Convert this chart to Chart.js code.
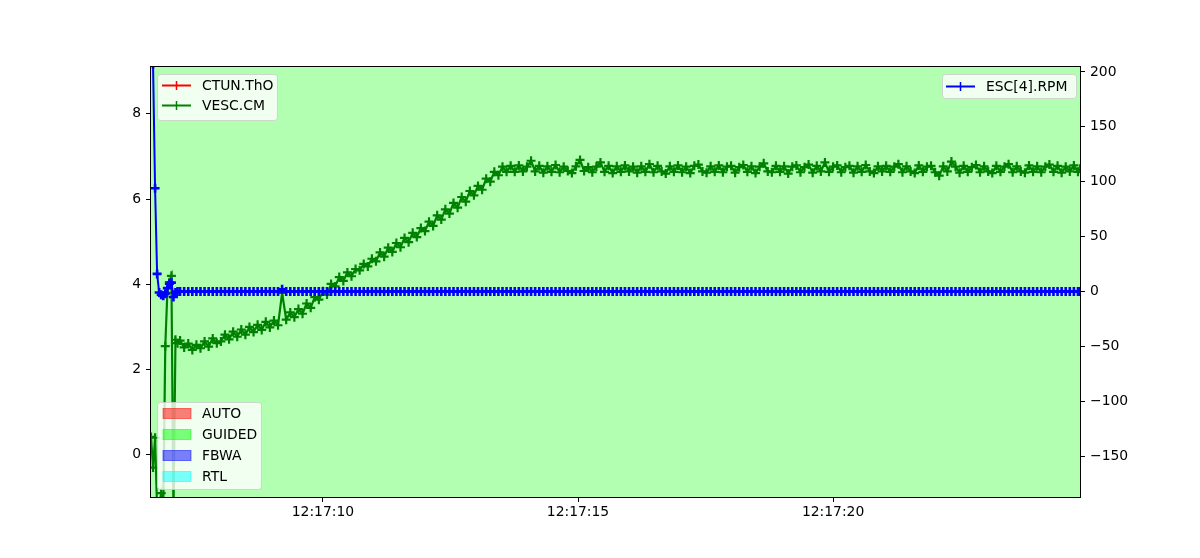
<!DOCTYPE html>
<html><head><meta charset="utf-8">
<script src="https://cdn.jsdelivr.net/npm/chart.js@4/dist/chart.umd.min.js"></script>
<style>html,body{margin:0;padding:0;background:#fff;}#wrap{width:1200px;height:558px;position:relative;}</style>
</head><body><div id="wrap"><canvas id="c" width="1200" height="558"></canvas></div>
<script>
// time in seconds after 12:17:00
const times = [
 6.63,6.67,6.71,6.75,6.79,6.83,6.87,6.91,6.95,6.99,7.03,7.07,7.11,7.15,
 7.20,7.28,7.36,7.44,7.52,7.60,7.68,7.76,7.84,7.92,
 8.00,8.08,8.16,8.24,8.32,8.40,8.48,8.56,8.64,8.72,8.80,8.88,8.96,
 9.04,9.12,9.20,9.28,9.36,9.44,9.52,9.60,9.68,9.76,9.84,9.92,
 10.00,10.08,10.16,10.24,10.32,10.40,10.48,10.56,10.64,10.72,10.80,10.88,10.96,
 11.04,11.12,11.20,11.28,11.36,11.44,11.52,11.60,11.68,11.76,11.84,11.92,
 12.00,12.08,12.16,12.24,12.32,12.40,12.48,12.56,12.64,12.72,12.80,12.88,12.96,
 13.04,13.12,13.20,13.28,13.36,13.44,13.52,13.60,13.68,13.76,13.84,13.92,
 14.00,14.08,14.16,14.24,14.32,14.40,14.48,14.56,14.64,14.72,14.80,14.88,14.96,
 15.04,15.12,15.20,15.28,15.36,15.44,15.52,15.60,15.68,15.76,15.84,15.92,
 16.00,16.08,16.16,16.24,16.32,16.40,16.48,16.56,16.64,16.72,16.80,16.88,16.96,
 17.04,17.12,17.20,17.28,17.36,17.44,17.52,17.60,17.68,17.76,17.84,17.92,
 18.00,18.08,18.16,18.24,18.32,18.40,18.48,18.56,18.64,18.72,18.80,18.88,18.96,
 19.04,19.12,19.20,19.28,19.36,19.44,19.52,19.60,19.68,19.76,19.84,19.92,
 20.00,20.08,20.16,20.24,20.32,20.40,20.48,20.56,20.64,20.72,20.80,20.88,20.96,
 21.04,21.12,21.20,21.28,21.36,21.44,21.52,21.60,21.68,21.76,21.84,21.92,
 22.00,22.08,22.16,22.24,22.32,22.40,22.48,22.56,22.64,22.72,22.80,22.88,22.96,
 23.04,23.12,23.20,23.28,23.36,23.44,23.52,23.60,23.68,23.76,23.84,23.92,
 24.00,24.08,24.16,24.24,24.32,24.40,24.48,24.56,24.64,24.72,24.80,
 24.84
];
const vescCM = [
 0.42,-0.30,0.40,-1.30,-1.20,-0.90,-1.30,2.55,3.80,4.05,4.20,-1.40,2.70,2.62,
 2.68,2.52,2.61,2.46,2.58,2.50,2.66,2.54,2.73,2.62,
 2.66,2.82,2.71,2.89,2.77,2.94,2.82,3.00,2.88,3.05,2.93,3.12,2.99,
 3.15,3.04,3.80,3.17,3.34,3.23,3.42,3.31,3.55,3.45,3.70,3.64,
 3.84,3.76,4.01,3.95,4.17,4.08,4.28,4.19,4.36,4.33,4.48,4.42,4.60,
 4.54,4.75,4.65,4.86,4.76,4.97,4.87,5.09,4.99,5.21,5.11,5.32,
 5.25,5.47,5.37,5.62,5.52,5.76,5.66,5.91,5.80,6.05,5.94,6.19,6.09,
 6.31,6.22,6.48,6.41,6.64,6.56,6.76,6.64,6.78,6.64,6.79,6.65,
 6.76,6.90,6.65,6.78,6.62,6.77,6.64,6.80,6.63,6.76,6.66,6.61,6.77,
 6.92,6.66,6.75,6.63,6.76,6.86,6.64,6.78,6.61,6.77,6.64,6.79,
 6.65,6.76,6.62,6.77,6.64,6.82,6.63,6.78,6.65,6.60,6.77,6.64,6.79,
 6.63,6.76,6.61,6.78,6.81,6.65,6.62,6.77,6.64,6.79,6.63,6.76,
 6.78,6.62,6.75,6.80,6.64,6.77,6.61,6.76,6.84,6.65,6.63,6.78,6.64,
 6.77,6.60,6.76,6.79,6.63,6.75,6.81,6.62,6.78,6.65,6.86,6.64,
 6.76,6.79,6.63,6.75,6.78,6.62,6.77,6.64,6.80,6.65,6.61,6.77,6.65,
 6.78,6.64,6.76,6.82,6.63,6.77,6.65,6.61,6.79,6.64,6.76,6.78,
 6.63,6.55,6.77,6.65,6.88,6.76,6.62,6.78,6.64,6.75,6.80,6.63,6.77,
 6.65,6.61,6.78,6.64,6.76,6.82,6.63,6.77,6.65,6.62,6.79,6.64,
 6.77,6.63,6.76,6.81,6.64,6.78,6.62,6.76,6.65,6.79,6.64,
 6.71
];
const escRPM = [
 320,207,94,16,-1,-3,-4,-2,3,7,8,-5,-1,0,
 0,0,0,0,0,0,0,0,0,0,
 0,0,0,0,0,0,0,0,0,0,0,0,0,
 0,0,2,0,0,0,0,0,0,0,0,0,
 0,0,0,0,0,0,0,0,0,0,0,0,0,
 0,0,0,0,0,0,0,0,0,0,0,0,
 0,0,0,0,0,0,0,0,0,0,0,0,0,
 0,0,0,0,0,0,0,0,0,0,0,0,
 0,0,0,0,0,0,0,0,0,0,0,0,0,
 0,0,0,0,0,0,0,0,0,0,0,0,
 0,0,0,0,0,0,0,0,0,0,0,0,0,
 0,0,0,0,0,0,0,0,0,0,0,0,
 0,0,0,0,0,0,0,0,0,0,0,0,0,
 0,0,0,0,0,0,0,0,0,0,0,0,
 0,0,0,0,0,0,0,0,0,0,0,0,0,
 0,0,0,0,0,0,0,0,0,0,0,0,
 0,0,0,0,0,0,0,0,0,0,0,0,0,
 0,0,0,0,0,0,0,0,0,0,0,0,
 0,0,0,0,0,0,0,0,0,0,0,
 0
];
const ctunThO = [];

const xTickValues = [10, 15, 20];
const leftTickValues = [0, 2, 4, 6, 8];
const rightTickValues = [-150, -100, -50, 0, 50, 100, 150, 200];

const modeNames = ['AUTO', 'GUIDED', 'FBWA', 'RTL'];
const modeColors = ['rgba(255,0,0,0.5)', 'rgba(0,255,0,0.5)', 'rgba(0,0,255,0.5)', 'rgba(0,255,255,0.5)'];
const spanModes = ['GUIDED'];
const spanStarts = [6.63];
const spanEnds = [24.84];

const FONT = 'DejaVu Sans';

function roundBox(ctx, x, y, w, h, r) {
  ctx.beginPath();
  ctx.moveTo(x + r, y);
  ctx.lineTo(x + w - r, y); ctx.arcTo(x + w, y, x + w, y + r, r);
  ctx.lineTo(x + w, y + h - r); ctx.arcTo(x + w, y + h, x + w - r, y + h, r);
  ctx.lineTo(x + r, y + h); ctx.arcTo(x, y + h, x, y + h - r, r);
  ctx.lineTo(x, y + r); ctx.arcTo(x, y, x + r, y, r);
  ctx.closePath();
  ctx.fillStyle = 'rgba(255,255,255,0.8)';
  ctx.fill();
  ctx.strokeStyle = 'rgba(204,204,204,0.8)';
  ctx.lineWidth = 1;
  ctx.stroke();
}
function lineEntry(ctx, x, y, color, text) {
  ctx.strokeStyle = color; ctx.lineWidth = 2;
  ctx.beginPath(); ctx.moveTo(x, y); ctx.lineTo(x + 29, y); ctx.stroke();
  ctx.lineWidth = 1.5;
  ctx.beginPath(); ctx.moveTo(x + 14.5, y - 4.5); ctx.lineTo(x + 14.5, y + 4.5); ctx.stroke();
  ctx.fillStyle = '#000'; ctx.font = '13.9px "' + FONT + '"';
  ctx.textBaseline = 'middle'; ctx.textAlign = 'left';
  ctx.fillText(text, x + 40, y + 1);
}

const decor = {
  id: 'decor',
  beforeDatasetsDraw(chart) {
    const { ctx, chartArea: a, scales } = chart;
    ctx.save();
    for (let i = 0; i < spanModes.length; i++) {
      const c = modeColors[modeNames.indexOf(spanModes[i])].replace('0.5', '0.3');
      const x0 = Math.max(a.left, scales.x.getPixelForValue(spanStarts[i]));
      const x1 = Math.min(a.right, scales.x.getPixelForValue(spanEnds[i]));
      ctx.fillStyle = c;
      ctx.fillRect(x0, a.top, x1 - x0, a.bottom - a.top);
    }
    ctx.restore();
  },
  afterDraw(chart) {
    const { ctx, chartArea: a } = chart;
    ctx.save();
    ctx.strokeStyle = '#000'; ctx.lineWidth = 1;
    ctx.strokeRect(Math.round(a.left) - 0.5, Math.round(a.top) - 0.5, Math.round(a.right - a.left) + 1, Math.round(a.bottom - a.top) + 1);
    // legend 1
    roundBox(ctx, a.left + 6.5, a.top + 7.5, 120, 46, 3);
    lineEntry(ctx, a.left + 11, a.top + 18.5, '#ff0000', 'CTUN.ThO');
    lineEntry(ctx, a.left + 11, a.top + 38.5, '#008000', 'VESC.CM');
    // legend 2
    roundBox(ctx, a.right - 137.5, a.top + 7.5, 134, 24, 3);
    lineEntry(ctx, a.right - 134, a.top + 19.5, '#0000ff', 'ESC[4].RPM');
    // legend 3
    roundBox(ctx, a.left + 6.5, a.bottom - 94.5, 104, 87, 3);
    for (let i = 0; i < modeNames.length; i++) {
      const y = a.bottom - 83.5 + i * 21;
      ctx.fillStyle = modeColors[i];
      ctx.fillRect(a.left + 12, y - 5, 28, 10);
      ctx.strokeStyle = modeColors[i]; ctx.lineWidth = 1;
      ctx.strokeRect(a.left + 12, y - 5, 28, 10);
      ctx.fillStyle = '#000'; ctx.font = '13.9px "' + FONT + '"';
      ctx.textBaseline = 'middle'; ctx.textAlign = 'left';
      ctx.fillText(modeNames[i], a.left + 51, y + 1);
    }
    ctx.restore();
  }
};

const tickFont = { family: FONT, size: 13.9 };
const gridCfg = { display: true, drawOnChartArea: false, drawTicks: true, tickLength: 5, tickColor: '#000', tickWidth: 1 };

new Chart(document.getElementById('c'), {
  type: 'line',
  data: {
    labels: times,
    datasets: [
      { label: 'ESC[4].RPM', data: escRPM, yAxisID: 'y1', borderColor: '#0000ff', backgroundColor: '#0000ff',
        borderWidth: 2, pointStyle: 'cross', pointRadius: 4.5, pointBorderWidth: 2.6, pointBorderColor: '#0000ff', order: 0, tension: 0 },
      { label: 'VESC.CM', data: vescCM, yAxisID: 'y', borderColor: '#008000', backgroundColor: '#008000',
        borderWidth: 2.2, pointStyle: 'cross', pointRadius: 4.5, pointBorderWidth: 2.2, pointBorderColor: '#008000', order: 1, tension: 0 },
      { label: 'CTUN.ThO', data: ctunThO, yAxisID: 'y', borderColor: '#ff0000', backgroundColor: '#ff0000',
        borderWidth: 2, pointStyle: 'cross', pointRadius: 4.5, order: 2 }
    ]
  },
  options: {
    responsive: false, animation: false, devicePixelRatio: 1, events: [],
    layout: { padding: { top: 67, left: 0, right: 0, bottom: 0 } },
    plugins: { legend: { display: false }, tooltip: { enabled: false } },
    scales: {
      x: {
        type: 'linear', min: 6.63, max: 24.84,
        afterBuildTicks: s => { s.ticks = xTickValues.map(v => ({ value: v })); },
        afterFit: s => { s.height = 61; },
        ticks: { color: '#000', font: tickFont, padding: 2, maxRotation: 0, autoSkip: false,
          callback: v => '12:17:' + String(v).padStart(2, '0') },
        grid: gridCfg, border: { display: false }
      },
      y: {
        position: 'left', min: -0.99, max: 9.10,
        afterBuildTicks: s => { s.ticks = leftTickValues.map(v => ({ value: v })); },
        afterFit: s => { s.width = 151; },
        ticks: { color: '#000', font: tickFont, padding: 5, callback: v => String(v) },
        grid: gridCfg, border: { display: false }
      },
      y1: {
        position: 'right', min: -187.3, max: 204.5,
        afterBuildTicks: s => { s.ticks = rightTickValues.map(v => ({ value: v })); },
        afterFit: s => { s.width = 120; },
        ticks: { color: '#000', font: tickFont, padding: 5, callback: v => (v < 0 ? '\u2212' + Math.abs(v) : String(v)) },
        grid: gridCfg, border: { display: false }
      }
    }
  },
  plugins: [decor]
});
</script></body></html>
